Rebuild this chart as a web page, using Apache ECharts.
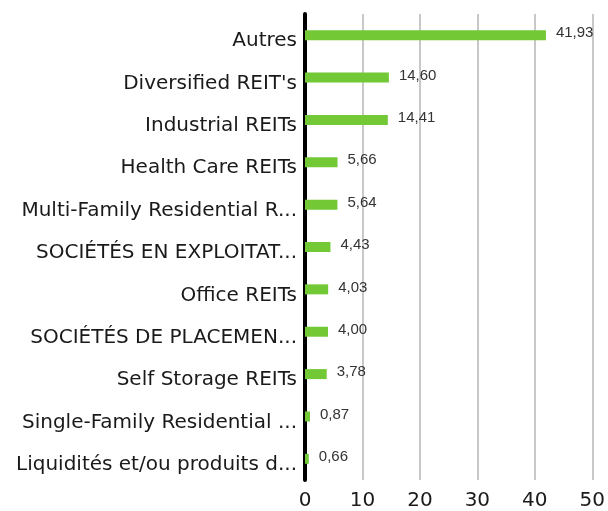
<!DOCTYPE html>
<html>
<head>
<meta charset="utf-8">
<script src="https://cdn.jsdelivr.net/npm/echarts@6/dist/echarts.min.js"></script>
<style>
  html, body { margin: 0; padding: 0; background: #fff; }
  #chart { width: 608px; height: 511px; }
</style>
</head>
<body>
<div id="chart"></div>
<script>
// sector breakdown
var categories = [
    'Autres',
    "Diversified REIT's",
    'Industrial REITs',
    'Health Care REITs',
    'Multi-Family Residential R...',
    'SOCIÉTÉS EN EXPLOITAT...',
    'Office REITs',
    'SOCIÉTÉS DE PLACEMEN...',
    'Self Storage REITs',
    'Single-Family Residential ...',
    'Liquidités et/ou produits d...'
];
var values = [41.93, 14.60, 14.41, 5.66, 5.64, 4.43, 4.03, 4.00, 3.78, 0.87, 0.66];
var xTicks = [0, 10, 20, 30, 40, 50];

var fontFam = '"DejaVu Sans", sans-serif';
var chart = echarts.init(document.getElementById('chart'));

chart.setOption({
    animation: false,
    backgroundColor: '#fff',
    grid: {
        left: 305,
        right: 12,
        top: 14,
        bottom: 30
    },
    xAxis: {
        type: 'value',
        min: xTicks[0],
        max: xTicks[xTicks.length - 1],
        interval: 10,
        axisLine: { show: false },
        axisTick: { show: false },
        splitLine: { lineStyle: { color: '#c8c8c8', width: 2 } },
        axisLabel: {
            color: '#1a1a1a',
            fontSize: 20,
            fontFamily: fontFam,
            margin: 11
        }
    },
    yAxis: {
        type: 'category',
        inverse: true,
        data: categories,
        axisLine: { lineStyle: { color: '#000', width: 4 } },
        axisTick: { show: false },
        axisLabel: {
            color: '#1a1a1a',
            margin: 8,
            // labels sit a little below their bars
            formatter: function (v) { return '{a|' + v + '}'; },
            rich: {
                a: {
                    fontSize: 20,
                    fontFamily: fontFam,
                    color: '#1a1a1a',
                    padding: [12, 0, 0, 0]
                }
            }
        }
    },
    series: [{
        type: 'bar',
        data: values,
        barWidth: 10,
        itemStyle: { color: '#72c935' },
        label: {
            show: true,
            position: 'right',
            distance: 10,
            offset: [0, -2],
            color: '#333',
            fontSize: 15,
            fontFamily: '"Liberation Sans", Arial, sans-serif',
            formatter: function (p) {
                return p.value.toFixed(2).replace('.', ',');
            }
        }
    }]
});
</script>
</body>
</html>
